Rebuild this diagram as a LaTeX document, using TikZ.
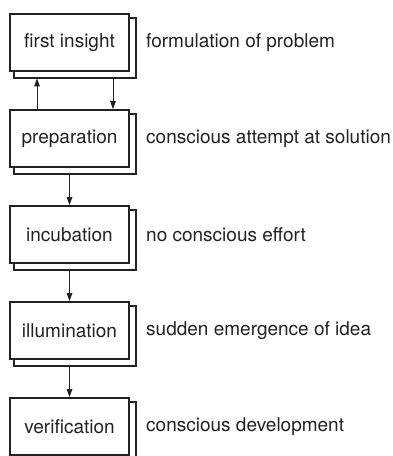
\documentclass[tikz,border=0pt]{standalone}
\usepackage{fontspec}
\setmainfont{TeX Gyre Heros}
\usetikzlibrary{arrows.meta}
\definecolor{ink}{HTML}{222222}
\begin{document}
\begin{tikzpicture}[x=1pt,y=-1pt,
  stagebox/.style={draw=ink,line width=1.7pt,minimum width=119pt,minimum height=57pt,inner sep=0pt,
    font=\fontsize{19}{22}\selectfont,text=ink},
  shadowline/.style={draw=ink,line width=1.7pt},
  desc/.style={anchor=west,inner sep=0pt,font=\fontsize{19}{22}\selectfont,text=ink},
  arr/.style={draw=ink,line width=0.9pt,-{Triangle[length=8pt,width=5.5pt]}}]
\useasboundingbox (0,0) rectangle (393,456);
\foreach \n/\t/\d [count=\i from 0] in {f/first insight/formulation of problem,
  p/preparation/conscious attempt at solution,
  c/incubation/no conscious effort,
  l/illumination/sudden emergence of idea,
  v/verification/conscious development}{
  \node[stagebox] (\n) at (69.5,42.5+96*\i) {\t};
  \draw[shadowline] ([xshift=5pt]\n.south west) -- ([xshift=5pt,yshift=-6pt]\n.south west)
     -- ([xshift=6pt,yshift=-6pt]\n.south east) -- ([xshift=6pt,yshift=-5pt]\n.north east)
     -- ([yshift=-5pt]\n.north east);
  \node[desc] (\n d) at (146,43+96*\i) {\d};
}
\draw[arr] ([xshift=-32.5pt]p.north) -- ([xshift=-32.5pt,yshift=-6.5pt]f.south);
\draw[arr] ([xshift=43.5pt,yshift=-6.5pt]f.south) -- ([xshift=43.5pt]p.north);
\draw[arr] ([yshift=-6.5pt]p.south) -- (c.north);
\draw[arr] ([yshift=-6.5pt]c.south) -- (l.north);
\draw[arr] ([yshift=-6.5pt]l.south) -- (v.north);
\end{tikzpicture}
\end{document}
